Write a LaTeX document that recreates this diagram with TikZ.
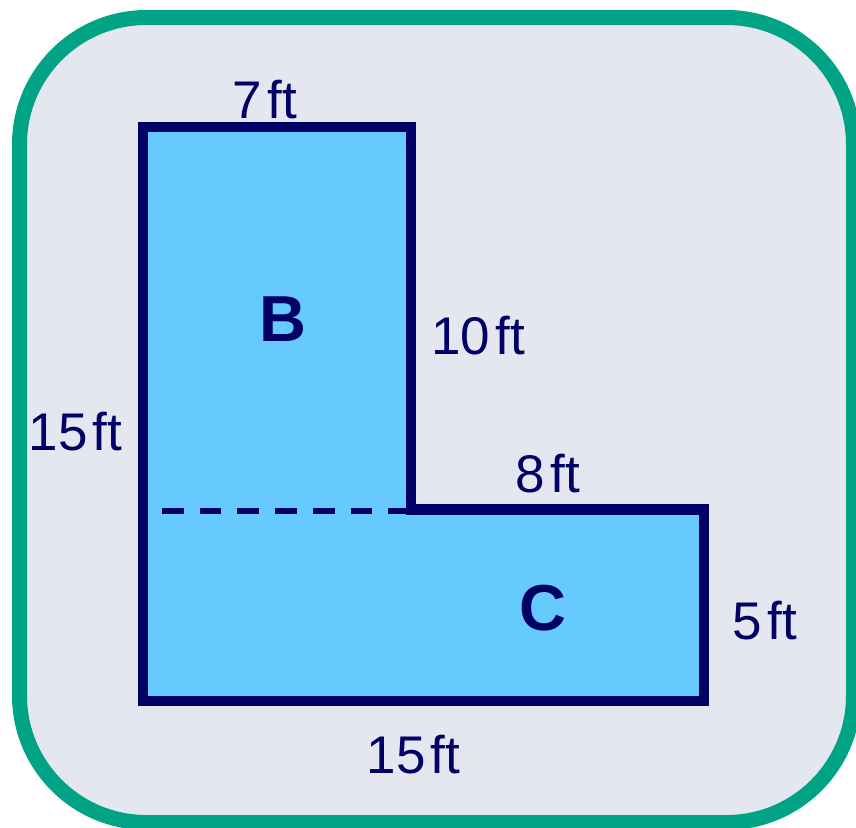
\documentclass[tikz,border=0pt]{standalone}
\usepackage{fontspec}
\setmainfont{Liberation Sans}
\definecolor{frame}{HTML}{00A384}
\definecolor{bgfill}{HTML}{E4E7F0}
\definecolor{shapefill}{HTML}{66CAFF}
\definecolor{navy}{HTML}{000066}
\tikzset{
  dimlabel/.style={anchor=base, inner sep=0pt, text=navy, font=\fontsize{53}{60}\selectfont},
  arealabel/.style={anchor=base, inner sep=0pt, text=navy, font=\fontsize{65}{72}\selectfont\bfseries},
}
\newcommand{\ftsp}{\hspace{0.1em}}
\begin{document}
\begin{tikzpicture}[x=1pt,y=-1pt]
\useasboundingbox (0,0) rectangle (856,827);
% frame
\draw[draw=frame, fill=bgfill, line width=15pt, rounded corners=127pt] (19.5,17.5) rectangle (853.5,822.5);
% L shape
\coordinate (p1) at (143,127);
\coordinate (p2) at (411,127);
\coordinate (p3) at (411,509.5);
\coordinate (p4) at (704,509.5);
\coordinate (p5) at (704,701);
\coordinate (p6) at (143,701);
\fill[shapefill] (p1) -- (p2) -- (p3) -- (p4) -- (p5) -- (p6) -- cycle;
\coordinate (d1) at (162,511);
\coordinate (d2) at (406,511);
\draw[navy, line width=6pt, dash pattern=on 21.7pt off 16pt] (d1) -- (d2);
\draw[draw=navy, line width=10.5pt, line join=miter] (p1) -- (p2) -- (p3) -- (p4) -- (p5) -- (p6) -- cycle;
% labels
\node[dimlabel] (top) at (265,118) {7\ftsp ft};
\node[dimlabel] (right10) at (478,354) {10\ftsp ft};
\node[dimlabel] (left15) at (75.5,450) {15\ftsp ft};
\node[dimlabel] (mid8) at (548,492) {8\ftsp ft};
\node[dimlabel] (right5) at (765,639) {5\ftsp ft};
\node[dimlabel] (bottom15) at (413.5,773) {15\ftsp ft};
\node[arealabel] (B) at (282.5,341) {B};
\node[arealabel] (C) at (543,630) {C};
\end{tikzpicture}
\end{document}
